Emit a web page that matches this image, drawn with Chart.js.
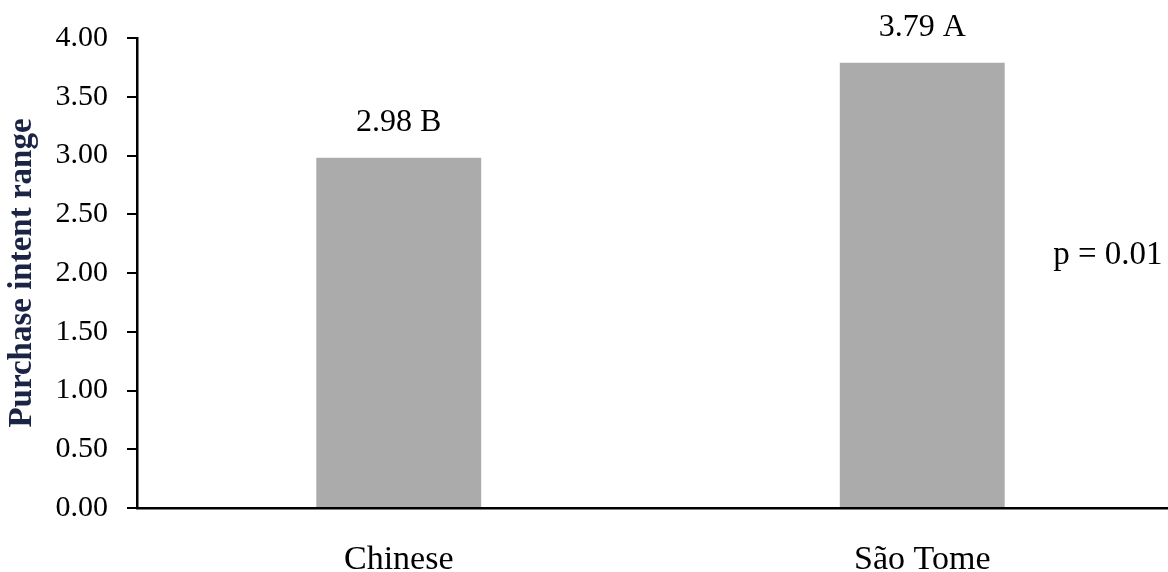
<!DOCTYPE html>
<html>
<head>
<meta charset="utf-8">
<title>Purchase intent</title>
<script src="https://cdn.jsdelivr.net/npm/chart.js@4"></script>
<style>
  html, body { margin: 0; padding: 0; background: #fff; overflow: hidden; }
</style>
</head>
<body>
<canvas id="myChart" width="1184" height="572"></canvas>
<script>
const categorias = ['Chinese', 'São Tome'];
const intencion = [2.98, 3.79];
const letras = ['B', 'A']; // grupos de significancia
const valorP = 'p = 0.01';
const yTicks = [0, 0.5, 1, 1.5, 2, 2.5, 3, 3.5, 4];

const serif = 'Liberation Serif, Times New Roman, serif';

// Etiquetas encima de cada barra y el valor p a la derecha
const etiquetas = {
  id: 'etiquetas',
  afterDatasetsDraw(chart) {
    const ctx = chart.ctx;
    const meta = chart.getDatasetMeta(0);
    ctx.save();
    ctx.fillStyle = '#000';
    ctx.font = '32px ' + serif;
    ctx.textAlign = 'center';
    ctx.textBaseline = 'middle';
    meta.data.forEach((bar, i) => {
      ctx.fillText(intencion[i].toFixed(2) + ' ' + letras[i], bar.x, bar.y - 35);
    });
    ctx.font = '33px ' + serif;
    ctx.textAlign = 'left';
    ctx.fillText(valorP, chart.scales.x.getPixelForValue(1.25), chart.scales.y.getPixelForValue(2.15));
    ctx.restore();
  }
};

const ctx = document.getElementById('myChart');

new Chart(ctx, {
  type: 'bar',
  data: {
    labels: categorias,
    datasets: [{
      data: intencion,
      backgroundColor: '#ABABAB',
      borderWidth: 0,
      barPercentage: 0.315,
      categoryPercentage: 1
    }]
  },
  options: {
    responsive: false,
    animation: false,
    layout: { padding: { top: 38, right: 0, bottom: 0, left: 0 } },
    plugins: {
      legend: { display: false },
      tooltip: { enabled: false }
    },
    scales: {
      y: {
        min: 0,
        max: 4,
        afterFit(scale) { scale.width = 137; },
        afterBuildTicks(scale) { scale.ticks = yTicks.map(v => ({ value: v })); },
        ticks: {
          padding: 19,
          color: '#000',
          font: { family: serif, size: 30 },
          callback: v => Number(v).toFixed(2)
        },
        grid: {
          drawOnChartArea: false,
          drawTicks: true,
          tickLength: 10,
          color: '#000',
          lineWidth: 2
        },
        border: { display: true, color: '#000', width: 2.5 },
        title: {
          display: true,
          text: 'Purchase intent range',
          color: '#1B2444',
          font: { family: serif, size: 33, weight: 'bold' },
          padding: { top: 3, bottom: 0 }
        }
      },
      x: {
        afterFit(scale) { scale.height = 64; },
        ticks: {
          padding: 24,
          color: '#000',
          font: { family: serif, size: 34 }
        },
        grid: { display: false },
        border: { display: true, color: '#000', width: 2.5 }
      }
    }
  },
  plugins: [etiquetas]
});
</script>
</body>
</html>
